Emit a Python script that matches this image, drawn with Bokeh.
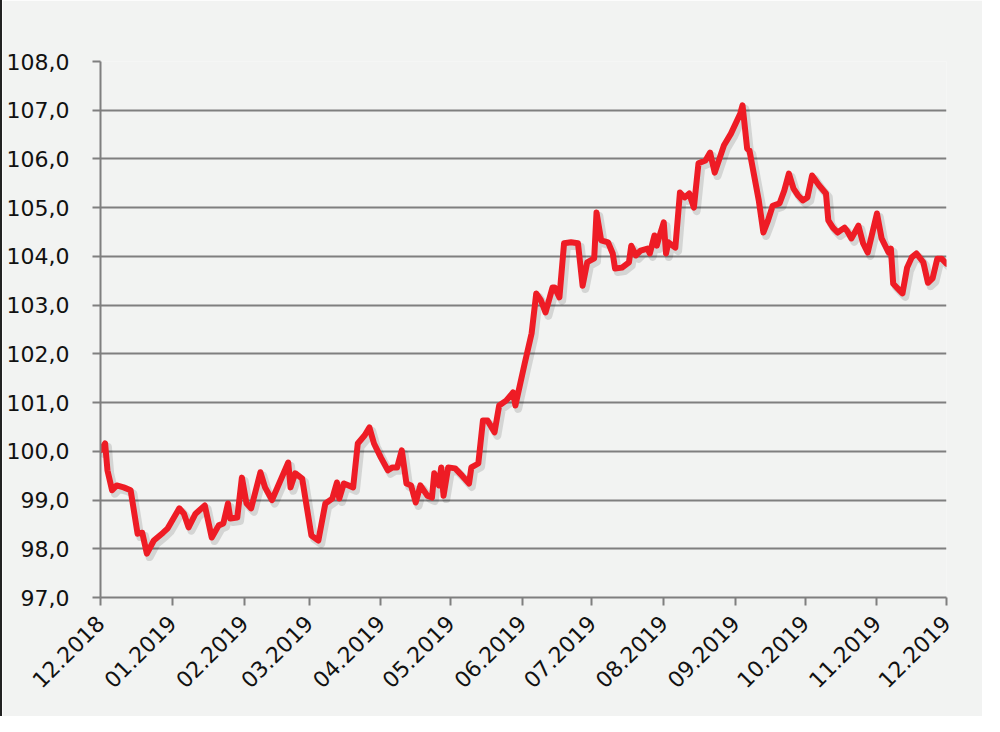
import numpy as np
import pandas as pd
from math import pi
from bokeh.plotting import figure
from bokeh.models import (Range1d, DatetimeTickFormatter, MonthsTicker, FixedTicker,
                          CustomJSTickFormatter, ColumnDataSource)
from bokeh.embed import file_html
from bokeh.resources import INLINE

dates = [
    "2018-12-01", "2018-12-03", "2018-12-04", "2018-12-06", "2018-12-08", "2018-12-11",
    "2018-12-14", "2018-12-17", "2018-12-19", "2018-12-21", "2018-12-24", "2018-12-28",
    "2018-12-30", "2019-01-04", "2019-01-06", "2019-01-08", "2019-01-11", "2019-01-15",
    "2019-01-18", "2019-01-21", "2019-01-23", "2019-01-25", "2019-01-26", "2019-01-29",
    "2019-01-31", "2019-02-02", "2019-02-04", "2019-02-08", "2019-02-10", "2019-02-13",
    "2019-02-20", "2019-02-21", "2019-02-23", "2019-02-26", "2019-03-02", "2019-03-05",
    "2019-03-08", "2019-03-11", "2019-03-13", "2019-03-14", "2019-03-16", "2019-03-20",
    "2019-03-22", "2019-03-25", "2019-03-27", "2019-03-29", "2019-04-01", "2019-04-04",
    "2019-04-06", "2019-04-08", "2019-04-10", "2019-04-12", "2019-04-14", "2019-04-16",
    "2019-04-18", "2019-04-21", "2019-04-23", "2019-04-24", "2019-04-26", "2019-04-27",
    "2019-04-28", "2019-04-30", "2019-05-03", "2019-05-06", "2019-05-09", "2019-05-10",
    "2019-05-13", "2019-05-15", "2019-05-17", "2019-05-20", "2019-05-22", "2019-05-25",
    "2019-05-27", "2019-05-28", "2019-05-29", "2019-06-02", "2019-06-05", "2019-06-07",
    "2019-06-09", "2019-06-11", "2019-06-14", "2019-06-15", "2019-06-17", "2019-06-19",
    "2019-06-22", "2019-06-25", "2019-06-27", "2019-06-29", "2019-07-02", "2019-07-03",
    "2019-07-05", "2019-07-08", "2019-07-10", "2019-07-11", "2019-07-14", "2019-07-17",
    "2019-07-18", "2019-07-20", "2019-07-22", "2019-07-25", "2019-07-26", "2019-07-28",
    "2019-07-29", "2019-07-30", "2019-08-01", "2019-08-02", "2019-08-03", "2019-08-06",
    "2019-08-08", "2019-08-10", "2019-08-12", "2019-08-14", "2019-08-16", "2019-08-19",
    "2019-08-21", "2019-08-23", "2019-08-27", "2019-08-30", "2019-09-03", "2019-09-04",
    "2019-09-06", "2019-09-07", "2019-09-11", "2019-09-13", "2019-09-15", "2019-09-17",
    "2019-09-20", "2019-09-22", "2019-09-24", "2019-09-26", "2019-09-28", "2019-09-30",
    "2019-10-02", "2019-10-04", "2019-10-07", "2019-10-10", "2019-10-11", "2019-10-13",
    "2019-10-15", "2019-10-18", "2019-10-19", "2019-10-21", "2019-10-24", "2019-10-26",
    "2019-10-28", "2019-11-01", "2019-11-03", "2019-11-06", "2019-11-07", "2019-11-08",
    "2019-11-10", "2019-11-12", "2019-11-14", "2019-11-16", "2019-11-18", "2019-11-21",
    "2019-11-23", "2019-11-25", "2019-11-27", "2019-11-29", "2019-12-01",
]

values = [
    100.02, 100.16, 99.61, 99.20, 99.30, 99.26,
    99.20, 98.31, 98.33, 97.90, 98.17, 98.33,
    98.42, 98.83, 98.72, 98.44, 98.72, 98.89,
    98.23, 98.48, 98.52, 98.93, 98.62, 98.64,
    99.46, 98.93, 98.83, 99.57, 99.26, 99.00,
    99.77, 99.26, 99.55, 99.44, 98.27, 98.17,
    98.93, 99.03, 99.36, 99.03, 99.34, 99.26,
    100.16, 100.33, 100.49, 100.16, 99.87, 99.61,
    99.67, 99.67, 100.02, 99.34, 99.30, 98.95,
    99.30, 99.09, 99.05, 99.55, 99.30, 99.67,
    99.09, 99.67, 99.65, 99.50, 99.34, 99.67,
    99.75, 100.63, 100.63, 100.39, 100.94, 101.04,
    101.15, 101.21, 100.94, 101.80, 102.42, 103.24,
    103.10, 102.85, 103.36, 103.36, 103.16, 104.27,
    104.29, 104.27, 103.40, 103.88, 103.96, 104.90,
    104.33, 104.29, 104.06, 103.75, 103.77, 103.88,
    104.22, 104.02, 104.12, 104.16, 104.06, 104.43,
    104.22, 104.39, 104.70, 104.06, 104.29, 104.18,
    105.31, 105.21, 105.29, 105.00, 105.91, 105.97,
    106.13, 105.72, 106.28, 106.52, 106.93, 107.10,
    106.21, 106.17, 105.15, 104.49, 104.74, 105.04,
    105.09, 105.35, 105.70, 105.39, 105.25, 105.15,
    105.21, 105.66, 105.46, 105.29, 104.74, 104.59,
    104.49, 104.59, 104.53, 104.37, 104.63, 104.27,
    104.08, 104.88, 104.37, 104.08, 104.16, 103.44,
    103.34, 103.24, 103.77, 103.98, 104.06, 103.88,
    103.46, 103.55, 103.95, 103.95, 103.85,
]

y_ticks = [97, 98, 99, 100, 101, 102, 103, 104, 105, 106, 107, 108]

BG = "#f2f3f2"
GRID = "#7f7f7f"
RED = "#ee1c25"

x_start = pd.Timestamp("2018-12-01")
x_end = pd.Timestamp("2019-12-01")

src = ColumnDataSource(dict(x=pd.to_datetime(dates), y=values))

p = figure(width=982, height=716, output_backend="svg", toolbar_location=None,
           x_axis_type="datetime",
           x_range=Range1d(x_start, x_end), y_range=Range1d(97, 108),
           min_border_left=98, min_border_right=38, min_border_top=61, min_border_bottom=119)
p.background_fill_color = BG
p.border_fill_color = BG
p.outline_line_color = None
p.styles = {"border-left": "2px solid #222222"}

# shadow renderer through slightly shifted ranges
p.extra_y_ranges = {"shadow_y": Range1d(97 + 0.07, 108 + 0.07)}
p.extra_x_ranges = {"shadow_x": Range1d(x_start - pd.Timedelta(days=1.2), x_end - pd.Timedelta(days=1.2))}
p.line("x", "y", source=src, line_color="#000000", line_alpha=0.12, line_width=8,
       line_join="round", line_cap="round", y_range_name="shadow_y", x_range_name="shadow_x")

p.line("x", "y", source=src, line_color=RED, line_width=6, line_join="round", line_cap="round")

# grid
p.xgrid.grid_line_color = None
p.ygrid.grid_line_color = GRID
p.ygrid.grid_line_width = 2
p.ygrid.ticker = FixedTicker(ticks=y_ticks)

# y axis
ya = p.yaxis[0]
ya.ticker = FixedTicker(ticks=y_ticks)
ya.formatter = CustomJSTickFormatter(code="return tick.toFixed(1).replace('.', ',');")
ya.axis_line_color = GRID
ya.axis_line_width = 2
ya.major_tick_line_color = GRID
ya.major_tick_line_width = 2
ya.major_tick_out = 8
ya.major_tick_in = 0
ya.minor_tick_line_color = None
ya.major_label_text_font = "DejaVu Sans"
ya.major_label_text_font_size = "22px"
ya.major_label_text_color = "#111111"
ya.major_label_standoff = 23

# x axis
xa = p.xaxis[0]
xa.ticker = MonthsTicker(months=list(range(12)))
xa.formatter = DatetimeTickFormatter(months="%m.%Y", days="%m.%Y", years="%m.%Y")
xa.axis_line_color = GRID
xa.axis_line_width = 2
xa.major_tick_line_color = GRID
xa.major_tick_line_width = 2
xa.major_tick_out = 8
xa.major_tick_in = 0
xa.minor_tick_line_color = None
xa.major_label_orientation = pi / 4
xa.major_label_text_font = "DejaVu Sans"
xa.major_label_text_font_size = "22px"
xa.major_label_text_color = "#111111"
xa.major_label_standoff = 14

open("out.html", "w").write(file_html(p, INLINE))
